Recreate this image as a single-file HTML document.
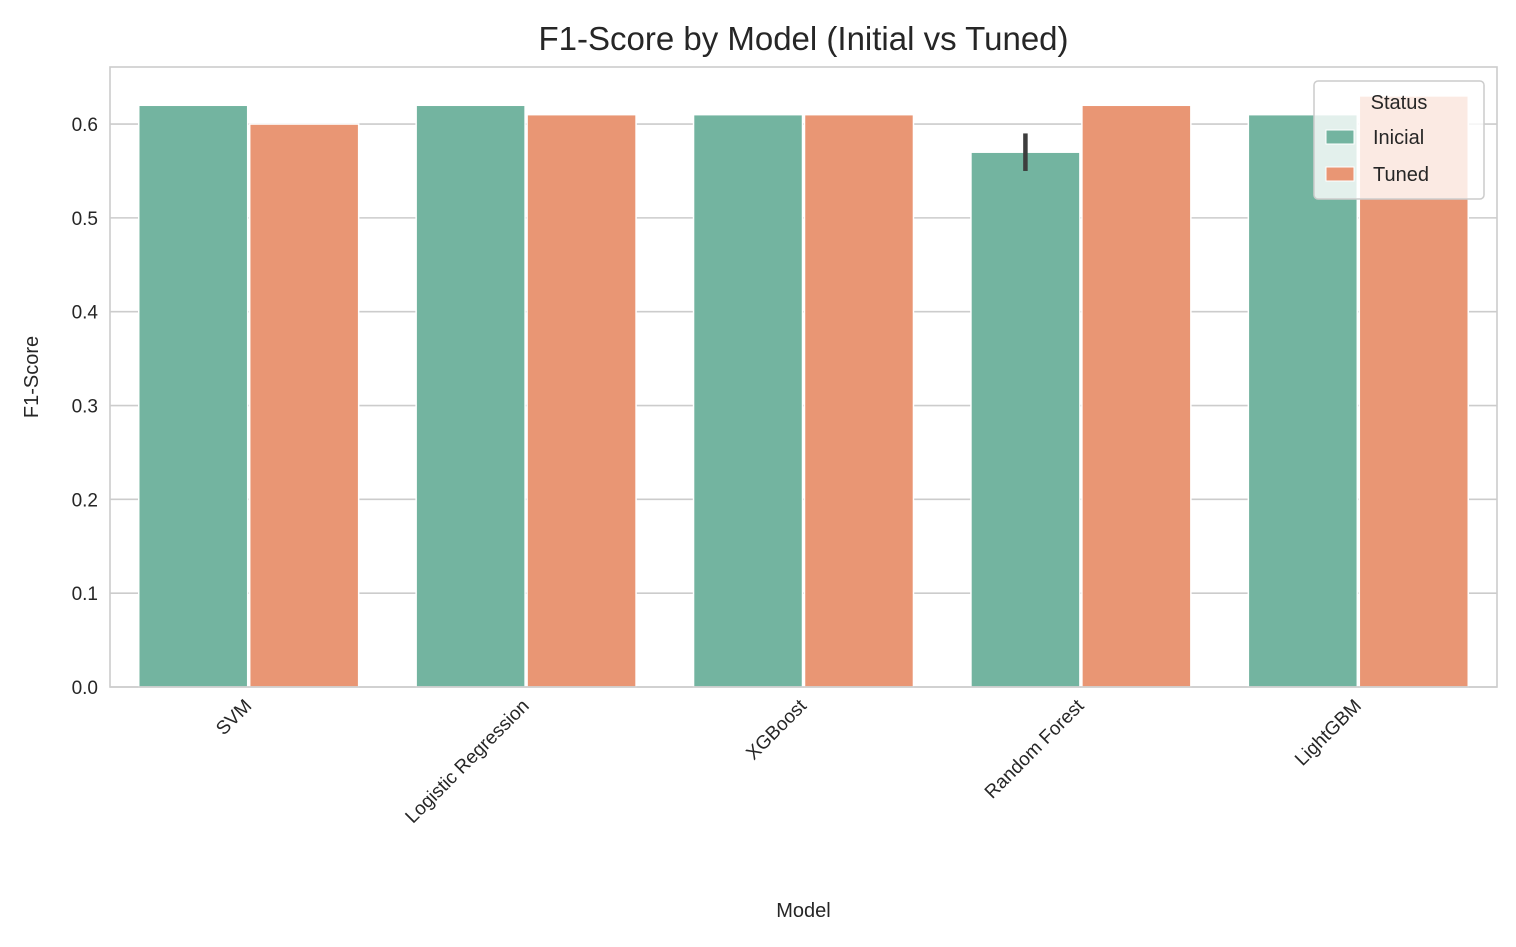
<!DOCTYPE html>
<html><head><meta charset="utf-8"><style>
body{margin:0;background:#fff;}
svg text{font-family:"Liberation Sans",Arial,sans-serif;fill:#262626;}
</style></head><body>
<svg id="chart" width="1516" height="942" xmlns="http://www.w3.org/2000/svg"></svg>
<script>
const categories=["SVM","Logistic Regression","XGBoost","Random Forest","LightGBM"];
const initialValues=[0.62,0.62,0.61,0.57,0.61];
const tunedValues=[0.60,0.61,0.61,0.62,0.63];
const errLow=[null,null,null,0.55,null];
const errHigh=[null,null,null,0.59,null];
const yTicks=[0.0,0.1,0.2,0.3,0.4,0.5,0.6];
const yTickLabels=["0.0","0.1","0.2","0.3","0.4","0.5","0.6"];
const seriesNames=["Inicial","Tuned"];

const svg=document.getElementById('chart');
const NS="http://www.w3.org/2000/svg";
const L=110,R=1497,T=67,B=687,yMax=0.6608;
function y(v){return B-(v/yMax)*(B-T);}
const band=(R-L)/categories.length;
function xc(i){return L+band*(i+0.5);}
const bw=band*0.4;
function mk(tag,attrs,parent){const e=document.createElementNS(NS,tag);for(const k in attrs)e.setAttribute(k,attrs[k]);(parent||svg).appendChild(e);return e;}

const grid=mk('g',{});


yTicks.forEach((t,i)=>{
  mk('line',{x1:L,x2:R,y1:y(t),y2:y(t),stroke:'#cccccc','stroke-width':1.6},grid);
  const tx=mk('text',{x:L-12,y:y(t)+7,'text-anchor':'end','font-size':19});
  tx.textContent=yTickLabels[i];
  
  
});
const colors=["#73b4a0","#e99674"];
categories.forEach((c,i)=>{
  [initialValues[i],tunedValues[i]].forEach((v,s)=>{
    const x0=xc(i)-bw+s*bw;
    const r=mk('rect',{x:x0+1,y:y(v),width:bw-2,height:B-y(v),fill:colors[s],stroke:'#fff','stroke-width':1.5});
    
    
  });
  if(errLow[i]!=null){
    const e=mk('line',{x1:xc(i)-bw/2,x2:xc(i)-bw/2,y1:y(errLow[i]),y2:y(errHigh[i]),stroke:'#3d3d3d','stroke-width':4.5});
    
    
  }
  const cx=xc(i)+4,cy=B+20;
  const t=mk('text',{x:cx,y:cy,'text-anchor':'end','font-size':19,transform:`rotate(-45 ${cx} ${cy})`});
  t.textContent=c;
  
  
});
const fr=mk('rect',{x:L,y:T,width:R-L,height:B-T,fill:'none',stroke:'#cccccc','stroke-width':1.6});



const title=mk('text',{x:(L+R)/2,y:50,'text-anchor':'middle','font-size':33});
title.textContent="F1-Score by Model (Initial vs Tuned)";


const xl=mk('text',{x:(L+R)/2,y:917,'text-anchor':'middle','font-size':20});
xl.textContent="Model";


const yl=mk('text',{x:38,y:(T+B)/2,'text-anchor':'middle','font-size':20,transform:`rotate(-90 38 ${(T+B)/2})`});
yl.textContent="F1-Score";



const lg=mk('g',{});


mk('rect',{x:1314,y:81,width:170,height:118,rx:4,fill:'rgba(255,255,255,0.8)',stroke:'#cccccc','stroke-width':1.5},lg);
const lt=mk('text',{x:1399,y:109,'text-anchor':'middle','font-size':20},lg);
lt.textContent="Status";
seriesNames.forEach((n,s)=>{
  const yy=137+s*37;
  const sw=mk('rect',{x:1326,y:yy-7,width:28,height:14,fill:colors[s],stroke:'#fff'},lg);
  
  
  const t=mk('text',{x:1373,y:yy+7,'font-size':20},lg);
  t.textContent=n;
  
  
});
</script>
</body></html>
